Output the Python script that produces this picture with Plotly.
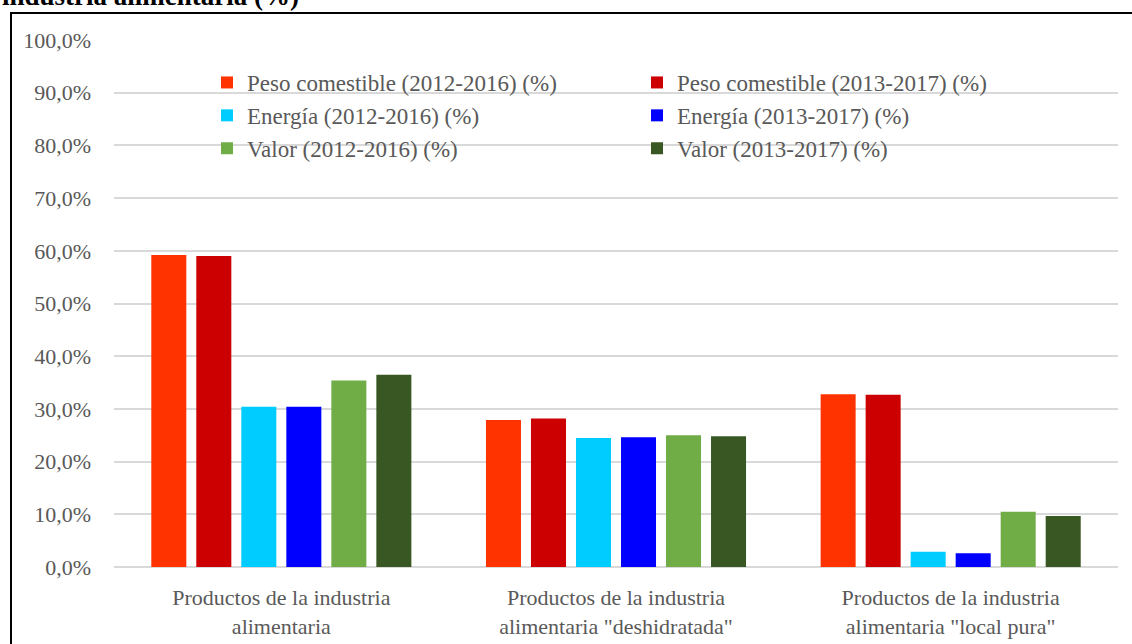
import plotly.graph_objects as go

categories = [
    "Productos de la industria<br>alimentaria",
    "Productos de la industria<br>alimentaria \"deshidratada\"",
    "Productos de la industria<br>alimentaria \"local pura\"",
]
series_names = [
    "Peso comestible (2012-2016) (%)",
    "Peso comestible (2013-2017) (%)",
    "Energía (2012-2016) (%)",
    "Energía (2013-2017) (%)",
    "Valor (2012-2016) (%)",
    "Valor (2013-2017) (%)",
]
peso_2012_2016 = [59.2, 27.9, 32.8]
peso_2013_2017 = [59.0, 28.2, 32.7]
energia_2012_2016 = [30.4, 24.5, 2.9]
energia_2013_2017 = [30.4, 24.6, 2.6]
valor_2012_2016 = [35.4, 25.0, 10.5]
valor_2013_2017 = [36.5, 24.8, 9.7]
series_values = [peso_2012_2016, peso_2013_2017, energia_2012_2016,
                 energia_2013_2017, valor_2012_2016, valor_2013_2017]
colors = ["#FF3300", "#CC0000", "#00CCFF", "#0000FF", "#70AD47", "#385723"]
y_ticks = [0, 10, 20, 30, 40, 50, 60, 70, 80, 90, 100]
y_tick_labels = ["0,0%", "10,0%", "20,0%", "30,0%", "40,0%", "50,0%",
                 "60,0%", "70,0%", "80,0%", "90,0%", "100,0%"]

FONT = "Liberation Serif, Times New Roman, serif"
W, H = 1132, 644
ML, MR, MT, MB = 114, 14, 40, 77
PW, PH = W - ML - MR, H - MT - MB

fig = go.Figure()
for name, vals, col in zip(series_names, series_values, colors):
    fig.add_trace(go.Bar(x=categories, y=vals, name=name, marker_color=col,
                         marker_line_width=0))

def px_x(p):
    return (p - ML) / PW

def px_y(p):
    return (H - MB - p) / PH

fig.update_layout(
    width=W, height=H,
    margin=dict(l=ML, r=MR, t=MT, b=MB, autoexpand=False),
    paper_bgcolor="white", plot_bgcolor="white",
    barmode="group", bargap=0.193, bargroupgap=0.222,
    font=dict(family=FONT, size=22, color="#595959"),
    legend=dict(orientation="h", x=px_x(207), y=px_y(61), xanchor="left", yanchor="top",
                entrywidth=385, font=dict(family=FONT, size=23, color="#595959"),
                bgcolor="rgba(0,0,0,0)", traceorder="normal"),
    xaxis=dict(showgrid=False, showline=False, ticks="", ticklabelstandoff=15,
               automargin=False, tickfont=dict(size=22, color="#595959")),
    yaxis=dict(range=[0, 100], tickvals=y_ticks, ticktext=y_tick_labels,
               showgrid=True, gridcolor="#D9D9D9", gridwidth=1.5,
               zeroline=True, zerolinecolor="#D9D9D9", zerolinewidth=1.5,
               showline=False, ticks="", ticklabelstandoff=22, automargin=False,
               tickfont=dict(size=22, color="#595959")),
    shapes=[dict(type="rect", xref="paper", yref="paper",
                 x0=px_x(11), x1=px_x(1140), y0=px_y(700), y1=px_y(13),
                 line=dict(color="black", width=2), fillcolor="rgba(0,0,0,0)", layer="above")],
    annotations=[dict(text="<b>industria alimentaria (%)</b>", xref="paper", yref="paper",
                      x=px_x(0), y=px_y(-4), xanchor="left", yanchor="middle",
                      showarrow=False, font=dict(family=FONT, size=27, color="black"))],
)

fig.write_html("out.html", config={"displayModeBar": False},
               post_script="document.body.style.margin='0';")
